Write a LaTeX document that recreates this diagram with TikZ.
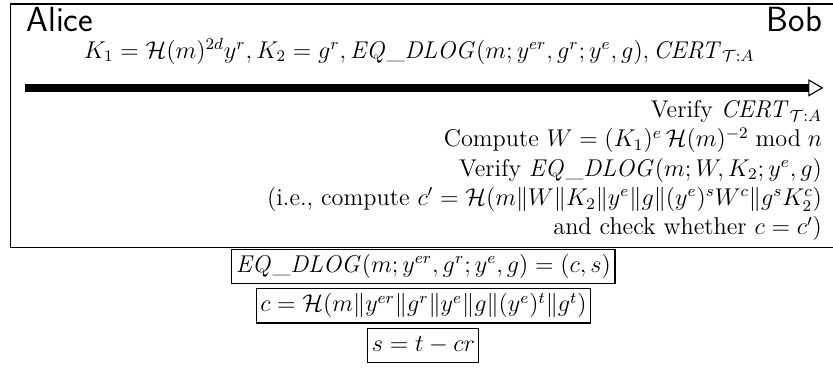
\documentclass[12pt,tikz,border=0pt]{standalone}
\usepackage{amsmath,amssymb}
\usepackage{tikz}
\usetikzlibrary{arrows.meta}
\usetikzlibrary{positioning,calc}
\newcommand{\eqdlog}{\mathit{EQ\_DLOG}}
\newcommand{\certta}{\mathit{CERT}_{\mathcal{T}:A}}
\tikzset{
  party/.style={font=\sffamily\Large,inner sep=0pt},
  steps/.style={align=right,inner sep=0pt},
  proofbox/.style={draw,line width=0.55pt,inner sep=2pt,text height=9.5pt,text depth=3.5pt}
}

\begin{document}
\begin{tikzpicture}[scale=0.926]
    \useasboundingbox (0,0) rectangle (15.64,-6.95);
    % protocol frame, its right side runs off the page
    \draw[line width=0.55pt] (15.8,-0.075) -- (0.19,-0.075) -- (0.19,-4.64) -- (15.8,-4.64);
    % the two parties
    \node[party,anchor=base west] (alice) at (0.49,-0.60) {Alice};
    \node[party,anchor=base east] (bob) at (15.44,-0.60) {Bob};
    % message sent to Bob
    \node[anchor=base,inner sep=0pt] (msg) at (7.87,-1.09)
      {$K_1=\mathcal{H}(m)^{2d}y^r, K_2=g^r, \eqdlog(m;y^{er},g^r;y^e,g), \certta$};
    \coordinate (from) at (0.47,-1.65);
    \coordinate (to) at (15.46,-1.65);
    \draw[line width=4pt,-{Triangle[open,length=7.5pt,width=8.5pt,line width=0.55pt]}]
      (from) -- (to);
    % Bob's checks
    \node[steps,anchor=north east] (check) at (15.44,-1.88)
      {Verify $\certta$\\
       Compute $W=(K_1)^e\,\mathcal{H}(m)^{-2} \bmod n$\\
       Verify $\eqdlog(m;W,K_2;y^e,g)$\\
       (i.e., compute $c'=\mathcal{H}(m\|W\|K_2\|y^e\|g\|(y^e)^sW^c\|g^sK_2^c)$\\
       and check whether $c=c'$)};
    % definition of the proof
    \node[proofbox] (pf) at (7.95,-5.0) {$\eqdlog(m;y^{er},g^r;y^e,g)=(c,s)$};
    \node[proofbox,below=2pt of pf] (hc) {$c=\mathcal{H}(m\|y^{er}\|g^r\|y^e\|g\|(y^e)^t\|g^t)$};
    \node[proofbox,below=2pt of hc] (sv) {$s=t-cr$};
  \end{tikzpicture}
\end{document}
